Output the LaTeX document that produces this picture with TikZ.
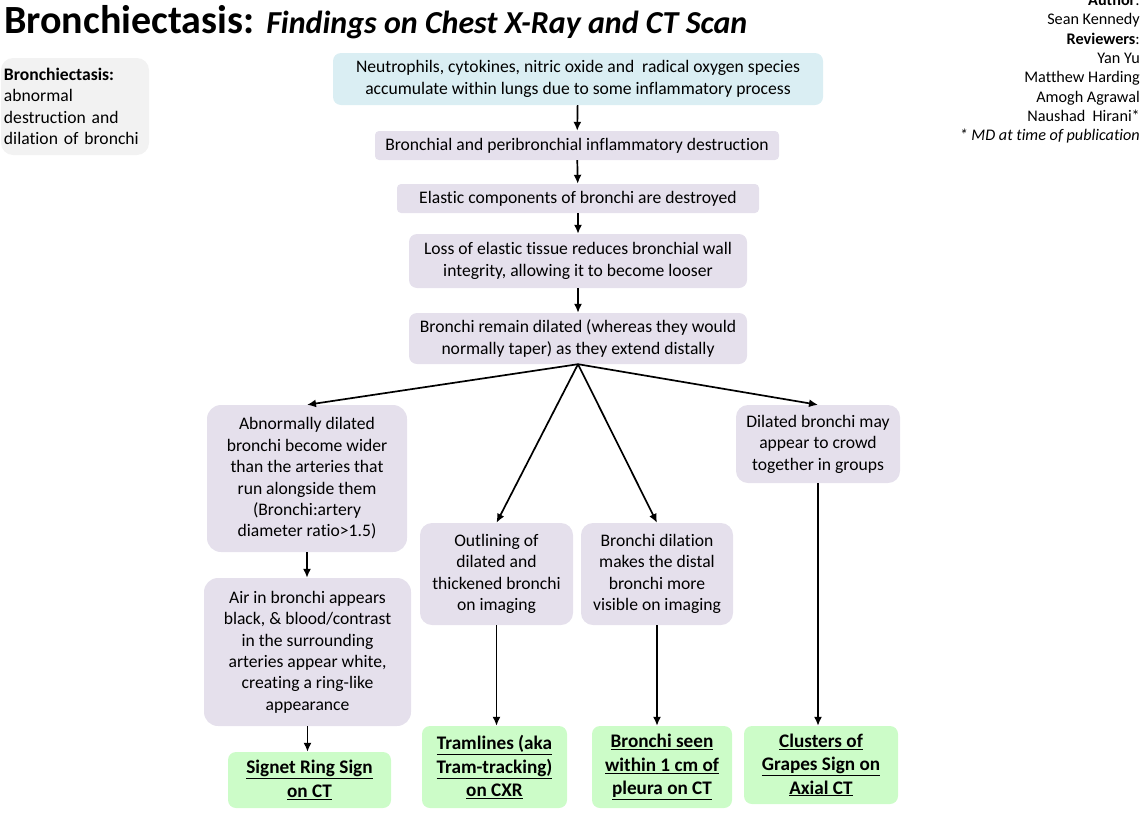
\documentclass[tikz,border=0pt]{standalone}
\usepackage{fontspec}
\setmainfont{Carlito}[Ligatures=NoCommon]
\usetikzlibrary{arrows.meta}

\definecolor{infoblue}{HTML}{DAEEF3}
\definecolor{steplilac}{HTML}{E5E0EC}
\definecolor{signgreen}{HTML}{CCFCC8}
\definecolor{notegray}{HTML}{F2F2F2}

\begin{document}
\begin{tikzpicture}[x=1pt, y=-1pt,
    box/.style={rectangle, rounded corners=8pt, align=center, inner sep=0pt,
                fill=steplilac, font=\fontsize{17.6}{21.4}\selectfont},
    sign/.style={box, fill=signgreen, font=\fontsize{19.2}{23.4}\selectfont\bfseries},
    arr/.style={-{Latex[length=9pt, width=8pt]}, line width=1.7pt}]
    \useasboundingbox (0,0) rectangle (1143,817);

    % title and side notes
    \node[anchor=base west, inner sep=0pt] (title) at (4,33)
        {\fontsize{40}{42}\selectfont\bfseries Bronchiectasis: \fontsize{32}{34}\selectfont\itshape Findings on Chest X-Ray and CT Scan};
    \node[anchor=north east, inner sep=0pt, align=right, font=\fontsize{16.2}{19.3}\selectfont] (credits) at (1140,-6)
        {\textbf{Author}:\\Sean Kennedy\\\textbf{Reviewers}:\\Yan Yu\\Matthew Harding\\Amogh Agrawal\\Naushad\ \ Hirani*\\\textit{* MD at time of publication}};
    \node[box, fill=notegray, rounded corners=12pt, minimum width=148, minimum height=97, align=left, text width=142] (defn) at (75,106.5)
        {\textbf{Bronchiectasis:}\\abnormal\\destruction and\\dilation of bronchi};

    % main chain
    \node[box, fill=infoblue, minimum width=490, minimum height=52] (cause) at (578,79)
        {Neutrophils, cytokines, nitric oxide and\ \ radical oxygen species\\accumulate within lungs due to some inflammatory process};
    \node[box, rounded corners=4pt, minimum width=404, minimum height=29] (destr) at (577,145.5)
        {Bronchial and peribronchial inflammatory destruction};
    \node[box, rounded corners=4pt, minimum width=362, minimum height=29] (elastic) at (578,198.5)
        {Elastic components of bronchi are destroyed};
    \node[box, minimum width=338, minimum height=54] (loose) at (578,261)
        {Loss of elastic tissue reduces bronchial wall\\integrity, allowing it to become looser};
    \node[box, minimum width=338, minimum height=51] (dilated) at (578,338.5)
        {Bronchi remain dilated (whereas they would\\normally taper) as they extend distally};

    % branches
    \node[box, rounded corners=14pt, minimum width=200, minimum height=147] (wider) at (307,478.5)
        {Abnormally dilated\\bronchi become wider\\than the arteries that\\run alongside them\\(Bronchi:artery\\diameter ratio>1.5)};
    \node[box, rounded corners=14pt, minimum width=207, minimum height=148] (ring) at (307.5,652)
        {Air in bronchi appears\\black, \& blood/contrast\\in the surrounding\\arteries appear white,\\creating a ring-like\\appearance};
    \node[box, rounded corners=12pt, minimum width=153, minimum height=102] (outline) at (496.5,574)
        {Outlining of\\dilated and\\thickened bronchi\\on imaging};
    \node[box, rounded corners=12pt, minimum width=152, minimum height=102] (visible) at (657,574)
        {Bronchi dilation\\makes the distal\\bronchi more\\visible on imaging};
    \node[box, rounded corners=12pt, minimum width=164, minimum height=78] (crowd) at (818,444)
        {Dilated bronchi may\\appear to crowd\\together in groups};

    % signs
    \node[sign, minimum width=163, minimum height=56] (signet) at (309.5,780)
        {\underline{Signet Ring Sign}\\\underline{on CT}};
    \node[sign, minimum width=145, minimum height=82] (tram) at (494.5,767)
        {\underline{Tramlines (aka}\\\underline{Tram-tracking)}\\\underline{on CXR}};
    \node[sign, minimum width=140, minimum height=82] (pleura) at (662,767)
        {\underline{Bronchi seen}\\\underline{within 1 cm of}\\\underline{pleura on CT}};
    \node[sign, minimum width=154, minimum height=78] (grapes) at (821,765)
        {\underline{Clusters of}\\\underline{Grapes Sign on}\\\underline{Axial CT}};

    \foreach \a/\b in {cause/destr, destr/elastic, elastic/loose, loose/dilated}
        \draw[arr] (\a) -- (\b);
    \foreach \b in {wider, outline, visible, crowd}
        \draw[arr] (dilated.south) -- (\b.north);
    \foreach \a/\b in {wider/ring, ring/signet, outline/tram, visible/pleura, crowd/grapes}
        \draw[arr] (\a.south) -- (\a.south |- \b.north);
\end{tikzpicture}
\end{document}
